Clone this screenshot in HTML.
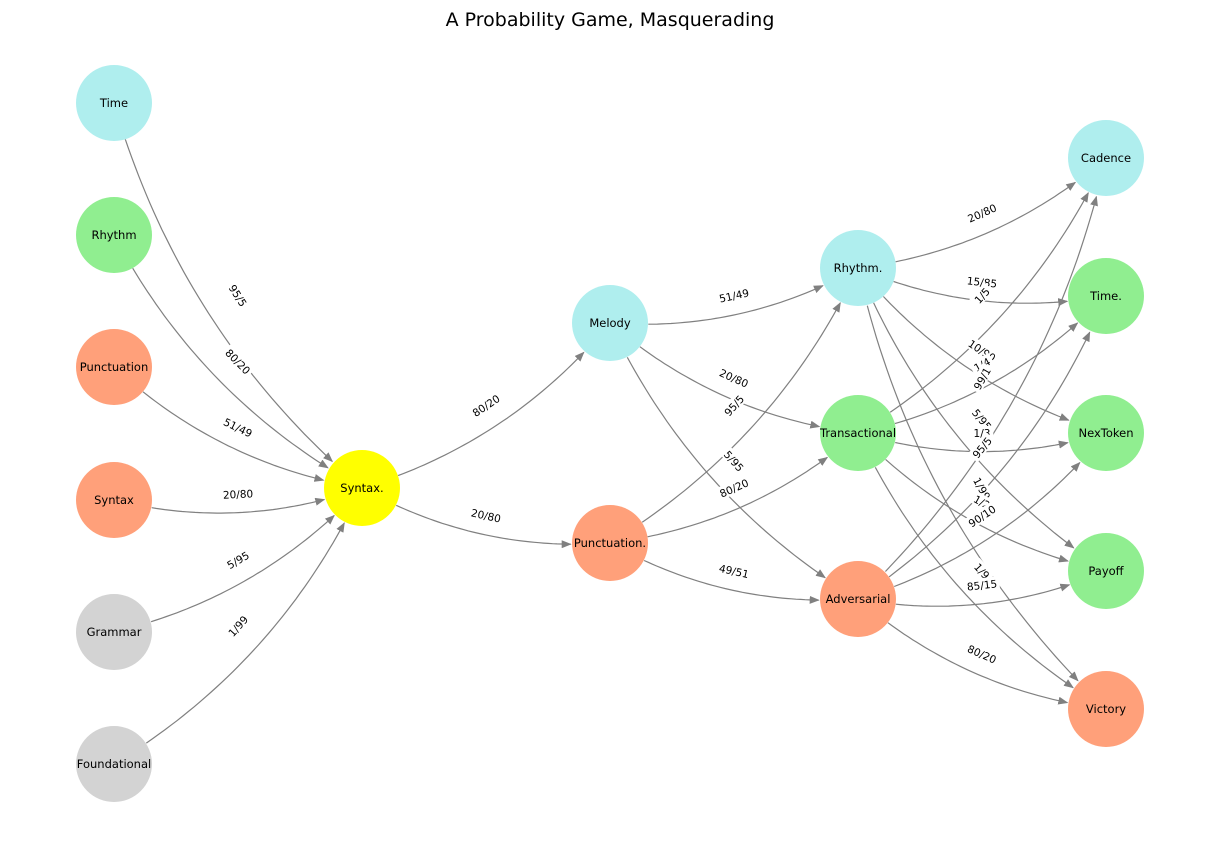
<!DOCTYPE html>
<html><head><meta charset="utf-8"><style>
html,body{margin:0;padding:0;background:#fff;}
svg{display:block;font-family:"DejaVu Sans","Liberation Sans",sans-serif;}
</style></head><body>
<svg id="chart" width="1220" height="844" viewBox="0 0 1220 844">
<defs><marker id="arr" markerWidth="10" markerHeight="8" refX="9" refY="4" orient="auto" markerUnits="userSpaceOnUse"><path d="M0,0 L10,4 L0,8 z" fill="#808080"/></marker></defs>
<text x="610" y="26" text-anchor="middle" font-size="19" fill="#000">A Probability Game, Masquerading</text>
<g id="edges"></g><g id="labels"></g><g id="nodes"></g>
</svg>
<script>
const nodeNames = ["Time","Rhythm","Punctuation","Syntax","Grammar","Foundational","Syntax.","Melody","Punctuation.","Rhythm.","Transactional","Adversarial","Cadence","Time.","NexToken","Payoff","Victory"];
const nodeX = [114,114,114,114,114,114,362,610,610,858,858,858,1106,1106,1106,1106,1106];
const nodeY = [103,235,367,500,632,764,488,323,543,268,433,599,158,296,433,571,709];
const nodeColors = ["#afeeee","#90ee90","#ffa07a","#ffa07a","#d3d3d3","#d3d3d3","#ffff00","#afeeee","#ffa07a","#afeeee","#90ee90","#ffa07a","#afeeee","#90ee90","#90ee90","#90ee90","#ffa07a"];
const edgeFrom = ["Time","Rhythm","Punctuation","Syntax","Grammar","Foundational","Syntax.","Syntax.","Melody","Melody","Melody","Punctuation.","Punctuation.","Punctuation.","Rhythm.","Rhythm.","Rhythm.","Rhythm.","Rhythm.","Transactional","Transactional","Transactional","Transactional","Transactional","Adversarial","Adversarial","Adversarial","Adversarial","Adversarial"];
const edgeTo = ["Syntax.","Syntax.","Syntax.","Syntax.","Syntax.","Syntax.","Melody","Punctuation.","Rhythm.","Transactional","Adversarial","Rhythm.","Transactional","Adversarial","Cadence","Time.","NexToken","Payoff","Victory","Cadence","Time.","NexToken","Payoff","Victory","Cadence","Time.","NexToken","Payoff","Victory"];
const edgeLabels = ["95/5","80/20","51/49","20/80","5/95","1/99","80/20","20/80","51/49","20/80","5/95","95/5","80/20","49/51","20/80","15/85","10/90","5/95","1/99","1/5","1/4","1/3","1/2","1/9","99/1","95/5","90/10","85/15","80/20"];
const R = 38, RAD = 0.15;
const NS = "http://www.w3.org/2000/svg";
const eg = document.getElementById('edges'), lg = document.getElementById('labels'), ng = document.getElementById('nodes');
function idx(n){return nodeNames.indexOf(n);}
function q(p0,c,p1,t){const u=1-t;return [u*u*p0[0]+2*u*t*c[0]+t*t*p1[0],u*u*p0[1]+2*u*t*c[1]+t*t*p1[1]];}
edgeFrom.forEach((f,i)=>{
  const a=idx(f), b=idx(edgeTo[i]);
  const p0=[nodeX[a],nodeY[a]], p1=[nodeX[b],nodeY[b]];
  const dx=p1[0]-p0[0], dy=p1[1]-p0[1];
  const mx=(p0[0]+p1[0])/2, my=(p0[1]+p1[1])/2;
  const c=[mx-RAD*dy, my+RAD*dx];
  let t0=0,t1=1;
  for(let t=0;t<=0.5;t+=0.002){const p=q(p0,c,p1,t);if(Math.hypot(p[0]-p0[0],p[1]-p0[1])>=R){t0=t;break;}}
  for(let t=1;t>=0.5;t-=0.002){const p=q(p0,c,p1,t);if(Math.hypot(p[0]-p1[0],p[1]-p1[1])>=R+1){t1=t;break;}}
  let d='';
  for(let k=0;k<=40;k++){const t=t0+(t1-t0)*k/40;const p=q(p0,c,p1,t);d+=(k?'L':'M')+p[0].toFixed(1)+','+p[1].toFixed(1);}
  const path=document.createElementNS(NS,'path');
  path.setAttribute('d',d);path.setAttribute('fill','none');path.setAttribute('stroke','#808080');path.setAttribute('stroke-width','1.2');path.setAttribute('marker-end','url(#arr)');
  
  
  eg.appendChild(path);
  let ang=Math.atan2(dy,dx)*180/Math.PI; if(ang>90)ang-=180; if(ang<-90)ang+=180;
  const g=document.createElementNS(NS,'g');
  g.setAttribute('transform',`translate(${mx},${my}) rotate(${ang})`);
  
  
  const w=edgeLabels[i].length*6.2+4;
  const r=document.createElementNS(NS,'rect');
  r.setAttribute('x',-w/2);r.setAttribute('y',-7);r.setAttribute('width',w);r.setAttribute('height',13);r.setAttribute('fill','#fff');
  g.appendChild(r);
  const tx=document.createElementNS(NS,'text');
  tx.setAttribute('text-anchor','middle');tx.setAttribute('y','4');tx.setAttribute('font-size','10.5');tx.textContent=edgeLabels[i];
  g.appendChild(tx);
  lg.appendChild(g);
});
nodeNames.forEach((n,i)=>{
  const g=document.createElementNS(NS,'g');
  
  
  const ci=document.createElementNS(NS,'circle');
  ci.setAttribute('cx',nodeX[i]);ci.setAttribute('cy',nodeY[i]);ci.setAttribute('r',R);ci.setAttribute('fill',nodeColors[i]);
  g.appendChild(ci);
  const t=document.createElementNS(NS,'text');
  t.setAttribute('x',nodeX[i]);t.setAttribute('y',nodeY[i]+4);t.setAttribute('text-anchor','middle');t.setAttribute('font-size','11.5');t.textContent=n;
  g.appendChild(t);
  ng.appendChild(g);
});
</script>
</body></html>
